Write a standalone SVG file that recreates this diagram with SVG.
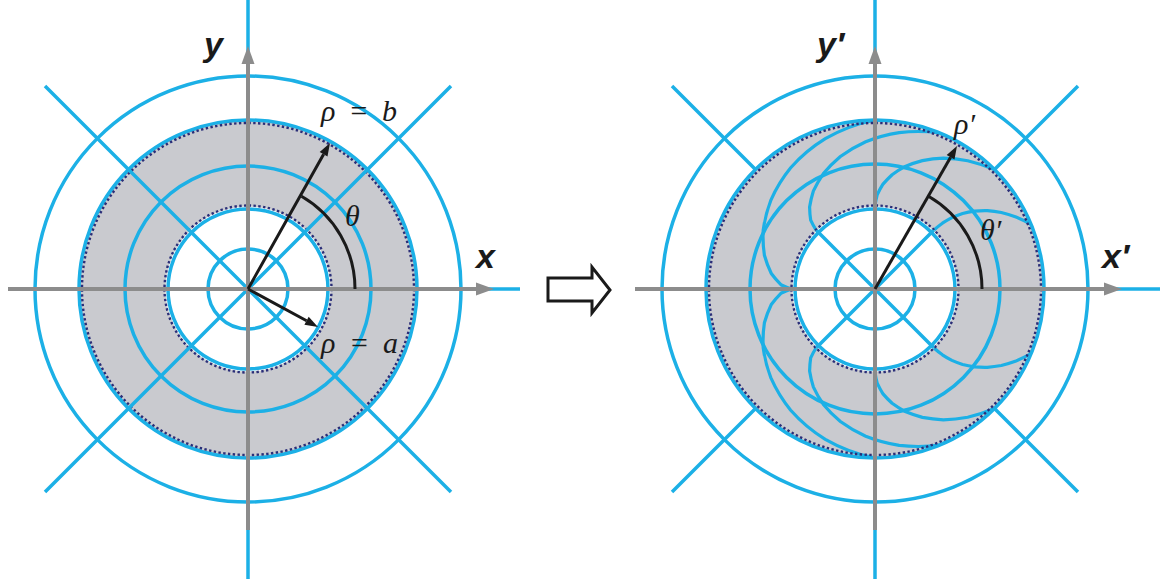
<svg xmlns="http://www.w3.org/2000/svg" width="1162" height="579" viewBox="0 0 1162 579">
<defs>
<style>
.b{fill:none;stroke:#1cb0e6;stroke-width:3.5}
.c{fill:none;stroke:#1cb0e6;stroke-width:3.2}
.ann{fill:none;stroke:#c9cacf;stroke-width:87}
.dot{fill:none;stroke:#2a2e78;stroke-width:2.4;stroke-dasharray:2.4 2.4}
.ax{fill:none;stroke:#8c8c8c;stroke-width:4}
.axh{fill:#8c8c8c}
.k{fill:none;stroke:#1a1a1a;stroke-width:3}
.kh{fill:#1a1a1a}
.lab{font-family:"Liberation Sans",Arial,sans-serif;font-weight:bold;font-style:italic;font-size:34px;fill:#1a1a1a}
.gr{font-family:"Liberation Serif","Times New Roman",serif;font-style:italic;font-size:30px;fill:#1a1a1a}
</style>
<g id="half">
<path class="c" d="M59,-59 A89,89 0 0 1 67.4,-65.8 A100,100 0 0 1 76.9,-71.4 A110,110 0 0 1 87.6,-75.5 A121,121 0 0 1 99.4,-77.9 A132,132 0 0 1 112.3,-78.3 A142,142 0 0 1 126.3,-76.5 A153,153 0 0 1 141,-72 A164,164 0 0 1 156.1,-64.7"/>
<path class="c" d="M0,-83.5 A89,89 0 0 1 2.2,-94.2 A100,100 0 0 1 7.8,-104.6 A110,110 0 0 1 17.1,-114.3 A121,121 0 0 1 30.2,-122.6 A132,132 0 0 1 47.4,-128.4 A142,142 0 0 1 68.4,-130.8 A153,153 0 0 1 92.7,-128.3 A164,164 0 0 1 119.5,-119.5"/>
<path class="c" d="M-59,-59 A89,89 0 0 1 -64.3,-68.8 A100,100 0 0 1 -65.4,-82 A110,110 0 0 1 -61.7,-97.8 A121,121 0 0 1 -51.8,-115.2 A132,132 0 0 1 -34.6,-132.5 A142,142 0 0 1 -9.3,-147.3 A153,153 0 0 1 24.2,-156.4 A164,164 0 0 1 64.7,-156.1"/>
<path class="c" d="M-83.5,0 A89,89 0 0 1 -94.1,-4.3 A100,100 0 0 1 -103.7,-15.5 A110,110 0 0 1 -110.6,-33.8 A121,121 0 0 1 -111.8,-58.7 A132,132 0 0 1 -104.1,-88.9 A142,142 0 0 1 -84.3,-121.2 A153,153 0 0 1 -49.7,-150.3 A164,164 0 0 1 0,-169"/>
</g>
</defs>
<rect width="1162" height="579" fill="#ffffff"/>

<g id="left">
<circle class="ann" cx="248" cy="289" r="126"/>
<circle class="b" cx="248" cy="289" r="40"/>
<circle class="b" cx="248" cy="289" r="80"/>
<circle class="b" cx="248" cy="289" r="123"/>
<circle class="b" cx="248" cy="289" r="169"/>
<circle class="b" cx="248" cy="289" r="213"/>
<circle class="dot" cx="248" cy="289" r="83.5"/>
<circle class="dot" cx="248" cy="289" r="166"/>
<path class="b" d="M45,86 L451,492 M451,86 L45,492 M248,0 V579 M8,289 H520"/>
</g>

<g id="right">
<circle class="ann" cx="875" cy="289" r="126"/>
<circle class="b" cx="875" cy="289" r="40"/>
<circle class="b" cx="875" cy="289" r="80"/>
<circle class="b" cx="875" cy="289" r="125"/>
<circle class="b" cx="875" cy="289" r="169"/>
<circle class="b" cx="875" cy="289" r="213"/>
<g transform="translate(875,289)">
<use href="#half"/>
<use href="#half" transform="scale(1,-1)"/>
</g>
<circle class="dot" cx="875" cy="289" r="83.5"/>
<circle class="dot" cx="875" cy="289" r="166"/>
<path class="b" d="M816.3,230.3 L933.7,347.7 M933.7,230.3 L816.3,347.7 M672,86 L755,169 M995,409 L1078,492 M1078,86 L995,169 M755,409 L672,492 M875,0 V579 M635,289 H1160"/>
</g>

<g id="connectors">
<path class="ax" d="M8,289 H478 M248,530 V62"/>
<polygon class="axh" points="476,282.5 494,289 476,295.5"/>
<polygon class="axh" points="241.5,64 248,46 254.5,64"/>
<path class="ax" d="M635,289 H1106 M875,530 V62"/>
<polygon class="axh" points="1104,282.5 1122,289 1104,295.5"/>
<polygon class="axh" points="868.5,64 875,46 881.5,64"/>
<path class="k" d="M248,289 L323.6,154.3 M248,289 L306.6,320.8"/>
<polygon class="kh" points="330,143 327.5,156.5 319.7,152.1"/>
<polygon class="kh" points="318,327 304.4,324.8 308.7,316.8"/>
<path class="k" d="M301.5,196.3 A107,107 0 0 1 355,289"/>
<path class="k" d="M875,289 L950.6,157.3"/>
<polygon class="kh" points="957,146 954.5,159.5 946.7,155.1"/>
<path class="k" d="M928.5,196.3 A107,107 0 0 1 982,289"/>
<path d="M548,278 L592,278 L592,267 L610,290 L592,313 L592,301 L548,301 Z" fill="#ffffff" stroke="#1a1a1a" stroke-width="3"/>
</g>

<g id="labels">
<text class="lab" x="204" y="56">y</text>
<text class="lab" x="476" y="268">x</text>
<text class="lab" x="817" y="56">y′</text>
<text class="lab" x="1102" y="268">x′</text>
<text class="gr" x="321" y="121" textLength="76">ρ = b</text>
<text class="gr" x="321" y="353" textLength="77">ρ = a</text>
<text class="gr" x="345" y="226" font-size="33">θ</text>
<text class="gr" x="954" y="134" font-size="33">ρ′</text>
<text class="gr" x="980" y="240" font-size="33">θ′</text>
</g>
</svg>
